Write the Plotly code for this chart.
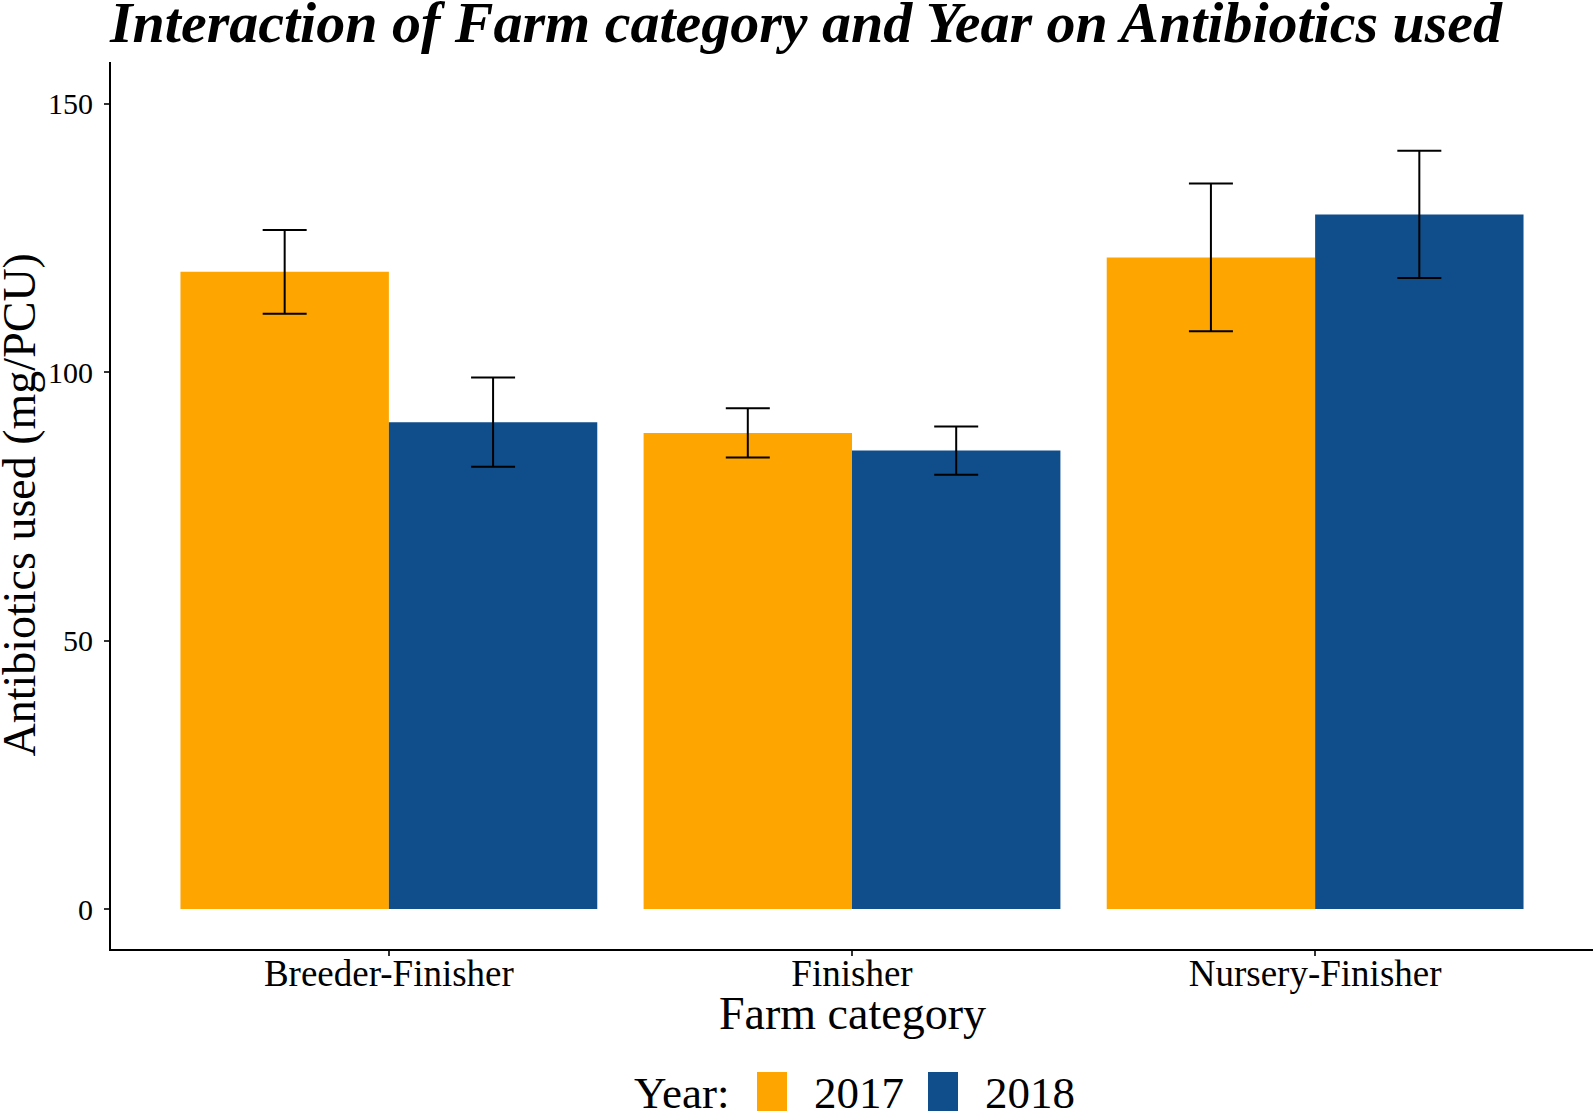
import plotly.graph_objects as go

categories = ["Breeder-Finisher", "Finisher", "Nursery-Finisher"]
years = ["2017", "2018"]
values_2017 = [118.7, 88.7, 121.4]
errors_2017 = [7.8, 4.6, 13.75]
values_2018 = [90.7, 85.4, 129.4]
errors_2018 = [8.3, 4.5, 11.85]
colors = ["#FFA500", "#104E8B"]
y_ticks = [0, 50, 100, 150]

W, H = 1594, 1111
# plot area in page pixels: x 111..1593, y 62..949
ML, MR, MT, MB = 111, 1, 62, 1111 - 949
FONT = "Liberation Serif, Times New Roman, serif"


def px_x(px):
    return (px - ML) / (W - ML - MR)


def px_y(py):
    return (H - MB - py) / (H - MT - MB)


fig = go.Figure()
for name, vals, errs, col in [
    (years[0], values_2017, errors_2017, colors[0]),
    (years[1], values_2018, errors_2018, colors[1]),
]:
    fig.add_trace(go.Bar(
        x=categories, y=vals, name=name,
        marker=dict(color=col, line=dict(width=0)),
        error_y=dict(type="data", array=errs, visible=True,
                     color="black", thickness=2, width=22),
        showlegend=False,
    ))

# manual legend (ggplot-style bottom legend)
legend_items = [("Year:", None, 632), (years[0], colors[0], 757), (years[1], colors[1], 928)]
shapes = []
annotations = []
for label, col, xleft in legend_items:
    if col is None:
        annotations.append(dict(text=label, x=px_x(xleft), y=px_y(1093), xref="paper", yref="paper",
                                xanchor="left", yanchor="middle", showarrow=False,
                                font=dict(family=FONT, size=45, color="black")))
    else:
        shapes.append(dict(type="rect", xref="paper", yref="paper",
                           x0=px_x(xleft), x1=px_x(xleft + 30), y0=px_y(1072), y1=px_y(1125),
                           fillcolor=col, line=dict(width=0)))
        annotations.append(dict(text=label, x=px_x(xleft + 55), y=px_y(1093), xref="paper", yref="paper",
                                xanchor="left", yanchor="middle", showarrow=False,
                                font=dict(family=FONT, size=45, color="black")))

annotations.append(dict(text="Farm category", x=0.5, y=px_y(1013), xref="paper", yref="paper",
                        xanchor="center", yanchor="middle", showarrow=False,
                        font=dict(family=FONT, size=46, color="black")))
annotations.append(dict(text="Antibiotics used (mg/PCU)", x=px_x(19), y=0.5, xref="paper", yref="paper",
                        xanchor="center", yanchor="middle", showarrow=False, textangle=-90,
                        font=dict(family=FONT, size=46, color="black")))

fig.update_layout(
    width=W, height=H,
    margin=dict(l=ML, r=MR, t=MT, b=MB, pad=0),
    paper_bgcolor="white", plot_bgcolor="white",
    barmode="group", bargap=0.1, bargroupgap=0,
    title=dict(text="Interaction of Farm category and Year on Antibiotics used",
               x=110 / W, xanchor="left", xref="container",
               y=1 - 22 / H, yanchor="middle", yref="container",
               font=dict(family=FONT, size=58, color="black", weight="bold", style="italic")),
    shapes=shapes, annotations=annotations,
    showlegend=False,
)
fig.update_xaxes(
    range=[-0.6, 2.6], showline=True, linecolor="black", linewidth=1.8,
    ticks="outside", ticklen=5, tickwidth=1.5, tickcolor="#333333",
    showgrid=False, zeroline=False, ticklabelstandoff=-14,
    tickfont=dict(family=FONT, size=37, color="black"),
)
fig.update_yaxes(
    range=[-7.45, 157.8], tickvals=y_ticks, showline=True, linecolor="black", linewidth=1.8,
    ticks="outside", ticklen=5, tickwidth=1.5, tickcolor="#333333",
    showgrid=False, zeroline=False, ticklabelstandoff=5,
    tickfont=dict(family=FONT, size=30, color="black"),
)

fig.write_html(
    "out.html",
    config={"displayModeBar": False},
    post_script="document.body.style.margin='0px';document.body.style.overflow='hidden';",
)
